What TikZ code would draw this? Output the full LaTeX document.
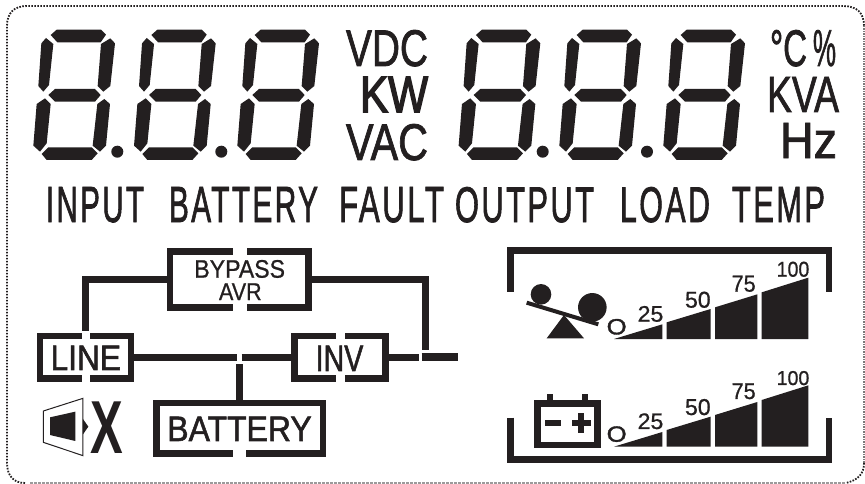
\documentclass[tikz,border=0pt]{standalone}
\usepackage{fontspec}
\usepackage{graphicx}
\setmainfont{Liberation Sans}
\newfontfamily\heavy[FakeBold=1.6]{Liberation Sans}
\newfontfamily\medium[FakeBold=0.8]{Liberation Sans}
\newfontfamily\thick[FakeBold=3]{Liberation Sans}
\newfontfamily\cond[FakeBold=1.8,LetterSpace=8]{Liberation Sans}
\definecolor{ink}{HTML}{231F20}
\tikzset{
  zoomed/.style={x=.33333pt,y=-.33333pt},
  framebox/.style={draw=ink,line width=6.5pt,minimum width=#1,inner sep=0pt},
  wire/.style={draw=ink,line width=6.5pt},
  gap/.style={fill=white,draw=none},
  solid ink/.style={fill=ink,draw=none}
}
\newcommand\lab[6]{%
  \pgfmathsetmacro\lx{\ox+#2*\zk}%
  \pgfmathsetmacro\lw{(#3-#2)*\zk}%
  \pgfmathsetmacro\ly{\oy+#5*\zk}%
  \pgfmathsetmacro\lh{(#5-#4)*\zk}%
  \node[inner sep=0pt,outer sep=0pt,anchor=base west,text=ink] (#1) at (\lx,\ly) {\resizebox{\lw pt}{\lh pt}{#6}};}
\newcommand\sevenseg[1]{%
  \begin{scope}[shift={(#1,0)},zoomed]
    \fill[ink] (152,105)--(170,89)--(303,89)--(318,104)--(302,127)--(172,127)--cycle;
    \fill[ink] (138,114)--(160,132)--(147,255)--(130,275)--(115,258)--(124,130)--cycle;
    \fill[ink] (331,115)--(345,130)--(331,258)--(310,275)--(293,258)--(303,132)--cycle;
    \fill[ink] (145,285)--(165,267)--(285,267)--(302,285)--(285,305)--(165,305)--cycle;
    \fill[ink] (135,295)--(152,312)--(140,430)--(120,455)--(100,437)--(110,312)--cycle;
    \fill[ink] (313,297)--(330,312)--(318,437)--(300,455)--(278,437)--(292,312)--cycle;
    \fill[ink] (125,462)--(145,442)--(275,442)--(293,460)--(275,480)--(140,480)--cycle;
  \end{scope}}
\newcommand\bars[1]{%
  \begin{scope}[shift={(490,235)},zoomed]
    \fill[ink] (372,#1)--(517,#1-44)--(517,#1)--cycle;
    \fill[ink] (530,#1)--(530,#1-50)--(662,#1-90)--(662,#1)--cycle;
    \fill[ink] (675,#1)--(675,#1-95)--(802,#1-134)--(802,#1)--cycle;
    \fill[ink] (815,#1)--(815,#1-140)--(955,#1-184)--(955,#1)--cycle;
  \end{scope}}
\begin{document}
\begin{tikzpicture}[x=1pt,y=-1pt]
\useasboundingbox (0,0) rectangle (865,484);
\fill[white] (0,0) rectangle (865,484);
% panel border
\draw[ink!45,line width=1.2pt,dash pattern=on 2.5pt off 1.5pt] (30,483) -- (845,483);
\draw[ink!60,line width=1.3pt,dash pattern=on 1.5pt off 1pt] (864,26) -- (864,463);
\draw[ink,line width=1.8pt,dash pattern=on 1.6pt off 1.4pt] (25,483) .. controls (14,483) and (7,476) .. (7,463) -- (7,26) .. controls (7,13) and (14,6) .. (27,6) -- (843,6) .. controls (857,6) and (864,13) .. (864,26);
\draw[ink,line width=1.8pt,dash pattern=on 1.6pt off 1.4pt] (864,463) .. controls (864,474) and (858,480) .. (846,483);
% seven-segment displays
\sevenseg{0}\sevenseg{100.7}\sevenseg{204}
\sevenseg{425.3}\sevenseg{526}\sevenseg{630}
\foreach \dotx in {117.3,221.3,542.7,647}{\fill[ink] (\dotx,151.7) circle[radius=6pt];}
% units and captions
\def\ox{0}\def\oy{0}\def\zk{1}
\lab{vdc}{346}{428}{30}{66}{\heavy VDC}
\lab{kw}{360}{428}{77}{112}{\thick KW}
\lab{vac}{346}{428}{124}{160}{\heavy VAC}
\lab{degc}{770}{807}{30}{66}{\heavy °C}
\lab{pct}{813}{836}{30}{66}{\heavy\%}
\lab{kva}{767}{839}{77}{112}{\heavy KVA}
\lab{hz}{780}{837}{123}{158}{\heavy Hz}
\lab{input}{46}{144}{187}{222}{\cond INPUT}
\lab{battery}{169}{318}{187}{222}{\cond BATTERY}
\lab{fault}{339}{444}{187}{222}{\cond FAULT}
\lab{output}{455}{594}{187}{222}{\cond OUTPUT}
\lab{load}{620}{710}{187}{222}{\cond LOAD}
\lab{temp}{732}{825}{187}{222}{\cond TEMP}
% flow diagram
\begin{scope}[shift={(20,235)},zoomed]
  \node[framebox=138.3pt,minimum height=56pt] (bypassbox) at (657.5,134) {};
  \node[framebox=91pt,minimum height=42.7pt] (linebox) at (196.5,367) {};
  \node[framebox=90.7pt,minimum height=42.7pt] (invbox) at (960,367) {};
  \node[framebox=166.7pt,minimum height=50.7pt] (batterybox) at (659,580) {};
  \fill[gap] (640,35) rectangle (680,62);
  \fill[gap] (640,206) rectangle (680,233);
  \fill[gap] (185,290) rectangle (210,318);
  \fill[gap] (185,420) rectangle (210,448);
  \fill[gap] (948,290) rectangle (975,318);
  \fill[gap] (948,420) rectangle (975,448);
  \fill[gap] (638,645) rectangle (678,670);
  \coordinate (lineup) at (197,287);
  \coordinate (outdrop) at (1217,345);
  \coordinate (busleft) at (652,367);
  \coordinate (busright) at (665,367);
  \coordinate (busdown) at (659,387);
  \coordinate (invout) at (1197,367);
  \coordinate (outstart) at (1205,366);
  \coordinate (outend) at (1313,366);
  \draw[wire] (bypassbox.west) -| (lineup);
  \draw[wire] (bypassbox.east) -| (outdrop);
  \draw[wire] (linebox.east) -- (busleft);
  \draw[wire] (busright) -- (invbox.west);
  \draw[wire] (busdown) -- (batterybox.north);
  \draw[wire] (invbox.east) -- (invout);
  \draw[draw=ink,line width=7.7pt] (outstart) -- (outend);
  % speaker
  \draw[ink,line width=1pt] (70,528) -- (189,490) -- (189,662) -- (70,622) -- cycle;
  \fill[ink] (90,547) -- (166,530) -- (166,618) -- (90,600) -- cycle;
  \fill[ink] (189,552) -- (205,575) -- (189,598) -- cycle;
\end{scope}
\def\ox{20}\def\oy{235}\def\zk{.33333}
\lab{bypasstxt}{523}{795}{75}{128}{\medium BYPASS}
\lab{avrtxt}{597}{725}{145}{195}{\medium AVR}
\lab{linetxt}{92}{303}{332}{405}{\heavy LINE}
\lab{invtxt}{887}{1030}{332}{408}{\heavy INV}
\lab{batterytxt}{442}{875}{545}{618}{\heavy BATTERY}
\lab{xtxt}{212}{310}{500}{655}{\bfseries X}
% load and battery gauges
\begin{scope}[shift={(490,235)},zoomed]
  \draw[ink,line width=6.5pt] (62,170) -- (62,47) -- (1017,47) -- (1017,170);
  \draw[ink,line width=6.5pt] (62,548) -- (62,673) -- (1017,673) -- (1017,548);
  \fill[ink] (153,178) circle[radius=10.3pt];
  \fill[ink] (307,217) circle[radius=14.3pt];
  \draw[ink,line width=4pt] (110,203) -- (325,268);
  \fill[ink] (170,310) -- (222,240) -- (282,310) -- cycle;
  \draw[ink,line width=6.5pt] (143,505) rectangle (322,630);
  \fill[ink] (172,477) rectangle (190,497);
  \fill[ink] (277,477) rectangle (295,497);
  \fill[ink] (165,555) rectangle (212,573);
  \fill[ink] (245,555) rectangle (302,573);
  \fill[ink] (265,533) rectangle (283,595);
\end{scope}
\bars{312}\bars{635}
\def\ox{490}\def\oy{235}\def\zk{.33333}
\lab{zeroa}{350}{410}{252}{298}{\heavy O}
\lab{qa}{443}{520}{213}{260}{\medium 25}
\lab{ha}{585}{662}{170}{218}{\medium 50}
\lab{ta}{725}{797}{122}{170}{\medium 75}
\lab{fa}{860}{958}{80}{125}{\medium 100}
\lab{zerob}{350}{410}{574}{620}{\heavy O}
\lab{qb}{443}{520}{535}{582}{\medium 25}
\lab{hb}{585}{662}{492}{540}{\medium 50}
\lab{tb}{725}{797}{445}{492}{\medium 75}
\lab{fb}{860}{958}{408}{450}{\medium 100}
\end{tikzpicture}
\end{document}
